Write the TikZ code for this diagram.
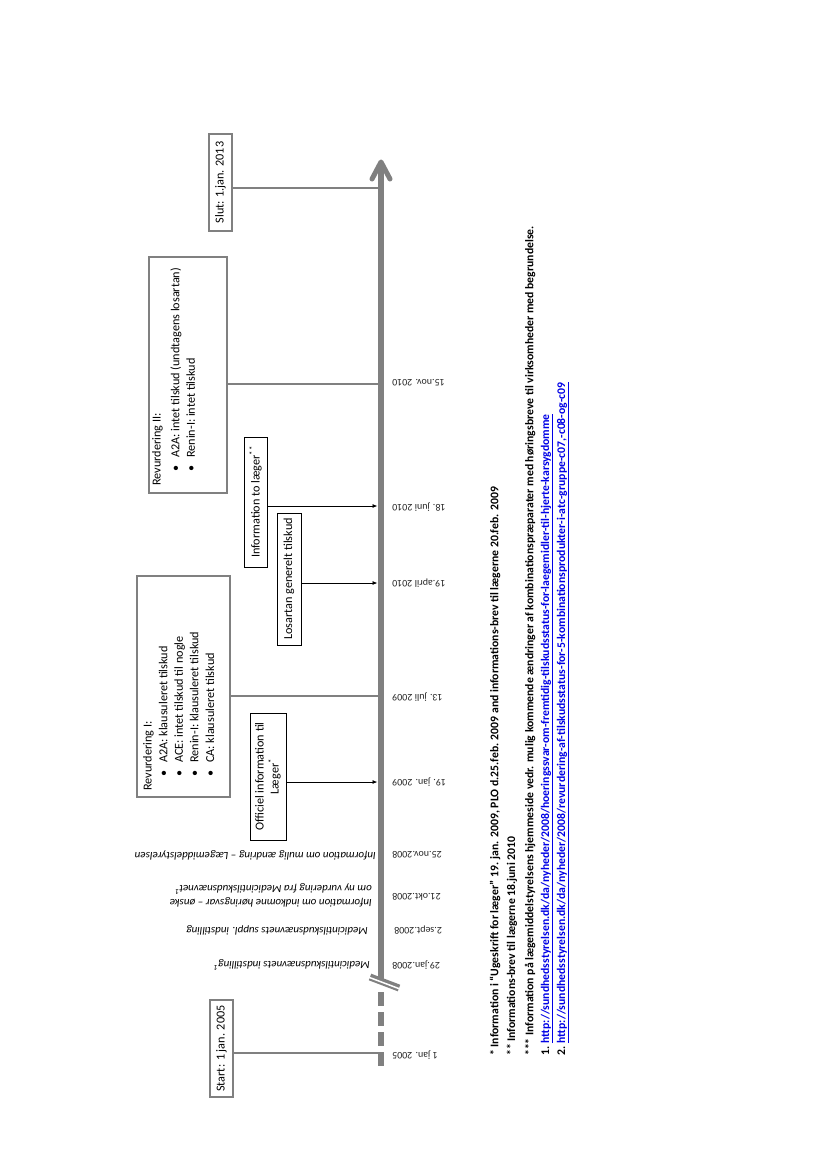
\documentclass[tikz,border=0pt]{standalone}
\usepackage{fontspec}
\setmainfont{Carlito}
\usetikzlibrary{arrows.meta}
\definecolor{axisgray}{RGB}{128,128,128}
\definecolor{boxgray}{RGB}{128,128,128}
\definecolor{linkblue}{RGB}{0,0,230}
\newcommand{\bitem}[1]{\makebox[28pt][l]{\hspace*{14pt}\textbullet}#1}
\begin{document}
\begin{tikzpicture}[x=1pt,y=-1pt,
  graybox/.style={draw=boxgray, line width=1.6pt, rotate=90, inner sep=0, font=\fontsize{12.2}{15}\selectfont},
  blackbox/.style={draw=black, line width=0.8pt, rotate=90, inner sep=0, font=\fontsize{12.2}{15}\selectfont, align=center},
  boxtext/.style={rotate=90, anchor=north west, inner sep=0, align=left, font=\fontsize{12.2}{15.6}\selectfont},
  datelabel/.style={rotate=180, anchor=east, inner sep=0, font=\fontsize{10}{11}\selectfont, text=black!85},
  evlabel/.style={rotate=180, anchor=west, inner sep=0, align=left, font=\fontsize{11}{14}\selectfont\itshape},
  conn/.style={draw=boxgray, line width=1.4pt},
  arr/.style={draw=black, line width=0.8pt, -{Latex[length=5pt,width=4pt]}},
  foot/.style={rotate=90, anchor=west, inner sep=0, font=\fontsize{11.7}{13}\selectfont\bfseries},
  axisline/.style={draw=axisgray, line width=6pt}
]
\useasboundingbox (0,0) rectangle (826,1169);
\fill[white] (0,0) rectangle (826,1169);

% axis
\draw[axisline] (381,980) -- (381,163);
\draw[axisgray, line width=5pt, line cap=round, line join=round] (372,179) -- (381,162) -- (390,179);
\draw[axisline, dash pattern=on 14pt off 6pt] (381,992) -- (381,1067);
\draw[axisgray, line width=7pt] (370,977) -- (399,988);
\draw[white, line width=1.5pt] (369,977.3) -- (400,989);

% axis coordinates
\coordinate (t2005) at (378,1053);
\coordinate (t2013) at (378,188);
\coordinate (t0907) at (378,696);
\coordinate (t1011) at (378,384);
\coordinate (t0901) at (377.5,782);
\coordinate (t1006) at (377.5,506);
\coordinate (t1004) at (377.5,583);

% date labels
\node[datelabel] (d1) at (392,1055) {1 jan. 2005};
\node[datelabel] (d2) at (392,965) {29.jan.2008};
\node[datelabel] (d3) at (394,930) {2.sept.2008};
\node[datelabel] (d4) at (392,897) {21.okt.2008};
\node[datelabel] (d5) at (392,855) {25.nov.2008};
\node[datelabel] (d6) at (392,782) {19. jan. 2009};
\node[datelabel] (d7) at (392,697) {13. juli 2009};
\node[datelabel] (d8) at (392,583) {19.april 2010};
\node[datelabel] (d9) at (392,507) {18. juni 2010};
\node[datelabel] (d10) at (392,383) {15.nov. 2010};

% italic event labels
\node[evlabel] (e1) at (370,965) {Medicintilskudsnævnets indstilling\textsuperscript{1}};
\node[evlabel] (e2) at (368,930) {Medicintilskudsnævnets suppl. indstilling};
\node[evlabel] (e3) at (372,895) {Information om indkomne høringsvar – ønske\\om ny vurdering fra Medicintilskudsnævnet\textsuperscript{1}};
\node[evlabel] (e4) at (376,855) {Information om mulig ændring – Lægemiddelstyrelsen};

% boxes
\node[graybox, minimum width=97pt, minimum height=23pt] (startbox) at (221.5,1048.5) {Start: 1 jan. 2005};
\node[graybox, minimum width=97pt, minimum height=23pt] (slutbox) at (220.5,182.5) {Slut: 1.jan. 2013};
\node[graybox, minimum width=221pt, minimum height=93pt] (rev1) at (183.5,686.5) {};
\node[graybox, minimum width=236pt, minimum height=78pt] (rev2) at (188,375) {};
\node[blackbox, minimum width=127pt, minimum height=36pt] (offbox) at (268,776.5) {Officiel information til\\Læger\textsuperscript{*}};
\node[blackbox, minimum width=130pt, minimum height=23pt] (infobox) at (255.5,502) {Information to læger\textsuperscript{**}};
\node[blackbox, minimum width=132pt, minimum height=24pt] (losbox) at (289,579) {Losartan generelt tilskud};

% box contents
\node[boxtext] (rev1text) at (143,791) {Revurdering I:\\
\bitem{A2A: klausuleret tilskud}\\
\bitem{ACE: intet tilskud til nogle}\\
\bitem{Renin-I: klausuleret tilskud}\\
\bitem{CA: klausuleret tilskud}};
\node[boxtext] (rev2text) at (152,486) {Revurdering II:\\[3pt]
\bitem{A2A: intet tilskud (undtagens losartan)}\\
\bitem{Renin-I: intet tilskud}};

% connectors
\draw[conn] (startbox.south |- t2005) -- (t2005);
\draw[conn] (slutbox.south |- t2013) -- (t2013);
\draw[conn] (rev1.south |- t0907) -- (t0907);
\draw[conn] (rev2.south |- t1011) -- (t1011);
\draw[arr] (offbox.south |- t0901) -- (t0901);
\draw[arr] (infobox.south |- t1006) -- (t1006);
\draw[arr] (losbox.south |- t1004) -- (t1004);

% footnotes
\node[foot] (f1) at (495,1056) {* Information i “Ugeskrift for læger” 19. jan. 2009, PLO d.25.feb. 2009 and informations-brev til lægerne 20.feb. 2009};
\node[foot] (f2) at (512,1056) {** Informations-brev til lægerne 18.juni 2010};
\node[foot] (f3) at (530,1056) {*** Information på lægemiddelstyrelsens hjemmeside vedr. mulig kommende ændringer af kombinationspræparater med høringsbreve til virksomheder med begrundelse.};
\node[foot] (f4) at (547,1056) {1. \textcolor{linkblue}{\underline{http://sundhedsstyrelsen.dk/da/nyheder/2008/hoeringssvar-om-fremtidig-tilskudsstatus-for-laegemidler-til-hjerte-karsygdomme}}};
\node[foot] (f5) at (563,1056) {2. \textcolor{linkblue}{\underline{http://sundhedsstyrelsen.dk/da/nyheder/2008/revurdering-af-tilskudsstatus-for-5-kombinationsprodukter-i-atc-gruppe-c07,-c08-og-c09}}};
\end{tikzpicture}
\end{document}
